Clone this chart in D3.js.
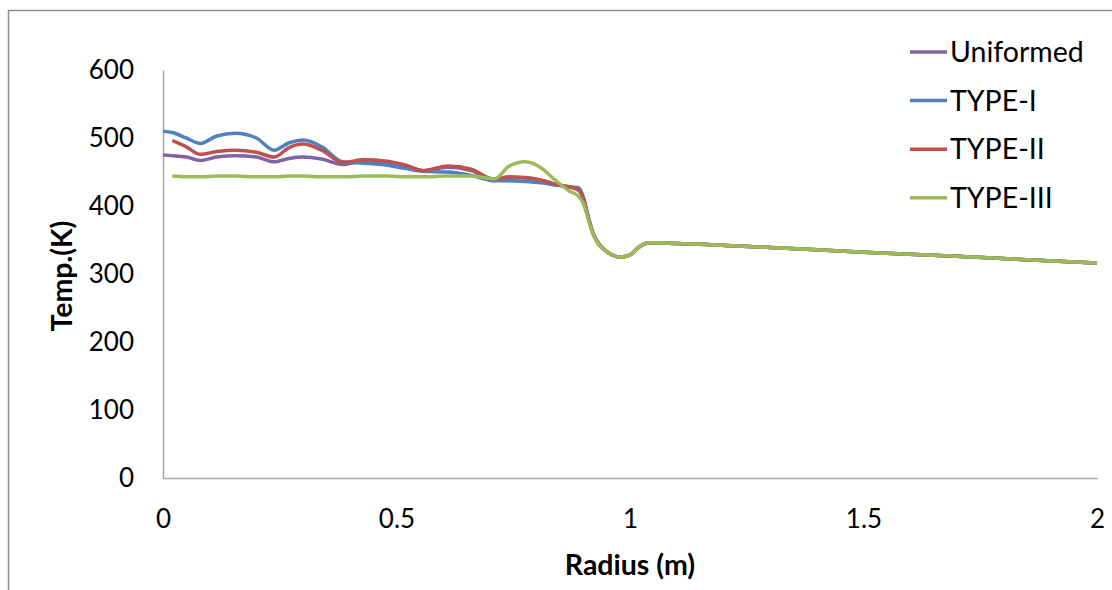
<!DOCTYPE html>
<html>
<head>
<meta charset="utf-8">
<script src="https://cdn.jsdelivr.net/npm/d3@7"></script>
<style>
  body { margin: 0; background: #fff; }
  svg { display: block; font-family: Lato, "Open Sans", sans-serif; }
  .tick text { font-size: 26px; fill: #000; }
</style>
</head>
<body>
<div id="chart"></div>
<script>
// radius (m) shared by every series
const radius = [0, 0.02, 0.05, 0.08, 0.115, 0.155, 0.2, 0.238, 0.27, 0.30, 0.34, 0.385,
  0.43, 0.48, 0.52, 0.557, 0.61, 0.66, 0.71, 0.74, 0.775, 0.81, 0.84, 0.87, 0.89, 0.9,
  0.91, 0.92, 0.93, 0.95, 0.98, 1.0, 1.02, 1.04, 1.1, 1.3, 1.5, 1.7, 2.0];

// temperatures (K), null where a series has no point
const uniformed = [475, 474, 472, 467, 472, 474, 472, 465, 470, 472, 469, 461,
  466, 464, 459, 452, 457, 452, 438, 441, 441, 438, 432, 428, 426, 412,
  385, 361, 347, 333, 325, 328, 340, 346, 345, 339, 332, 326, 316];
const type1 = [510, 508, 500, 492, 503, 507, 500, 482, 493, 497, 487, 465,
  463, 460, 455, 451, 450, 445, 437, 437, 436, 434, 431, 428, 427, 413,
  386, 362, 348, 333, 325, 328, 340, 346, 345, 339, 332, 326, 316];
const type2 = [null, 496, 487, 476, 480, 482, 479, 472, 486, 491, 482, 464,
  468, 466, 460, 452, 459, 454, 439, 443, 442, 438, 432, 428, 423, 410,
  384, 361, 347, 333, 325, 328, 340, 346, 345, 339, 332, 326, 316];
const type3 = [null, 444, 443, 443, 444, 444, 443, 443, 444, 444, 443, 443,
  444, 444, 443, 443, 444, 444, 440, 458, 465, 456, 438, 422, 414, 404,
  382, 360, 346, 333, 325, 328, 340, 346, 345, 339, 332, 326, 316];

const seriesNames = ["Uniformed", "TYPE-I", "TYPE-II", "TYPE-III"];
const seriesValues = [uniformed, type1, type2, type3];
const seriesColors = ["#8064A2", "#4F81BD", "#C0504D", "#9BBB59"];

const xTicks = [0, 0.5, 1, 1.5, 2];
const yTicks = [0, 100, 200, 300, 400, 500, 600];

const width = 1112, height = 590;
const margin = {top: 70, right: 15, bottom: 112, left: 163};

const svg = d3.select("#chart").append("svg")
  .attr("width", width)
  .attr("height", height);

// outer chart frame (only top and left edges are in view)
svg.append("rect")
  .attr("x", 8.5).attr("y", 10.5)
  .attr("width", width + 20).attr("height", height + 20)
  .attr("fill", "none")
  .attr("stroke", "#8c8c8c")
  .attr("stroke-width", 1.5);

const x = d3.scaleLinear().domain([0, 2]).range([margin.left, width - margin.right]);
const y = d3.scaleLinear().domain([0, 600]).range([height - margin.bottom, margin.top]);

const xAxis = svg.append("g")
  .attr("transform", `translate(0,${y(0)})`)
  .call(d3.axisBottom(x).tickValues(xTicks).tickSize(0).tickPadding(32)
    .tickFormat(d3.format("")));
const yAxis = svg.append("g")
  .attr("transform", `translate(${x(0)},0)`)
  .call(d3.axisLeft(y).tickValues(yTicks).tickSize(0).tickPadding(29));

[xAxis, yAxis].forEach(g => {
  g.select(".domain").attr("stroke", "#a6a6a6").attr("stroke-width", 1.5);
  g.selectAll("text").attr("font-family", "Lato, sans-serif");
});

svg.append("text")
  .attr("x", x(1)).attr("y", 575)
  .attr("text-anchor", "middle")
  .attr("font-size", 28.5).attr("font-weight", "bold")
  .text("Radius (m)");

svg.append("text")
  .attr("transform", `translate(72,${y(300) + 2}) rotate(-90)`)
  .attr("text-anchor", "middle")
  .attr("font-size", 28.5).attr("font-weight", "bold")
  .text("Temp.(K)");

const line = d3.line()
  .defined(d => d[1] != null)
  .x(d => x(d[0]))
  .y(d => y(d[1]))
  .curve(d3.curveMonotoneX);

seriesValues.forEach((vals, i) => {
  svg.append("path")
    .datum(radius.map((r, j) => [r, vals[j]]))
    .attr("fill", "none")
    .attr("stroke", seriesColors[i])
    .attr("stroke-width", 3.5)
    .attr("stroke-linejoin", "round")
    .attr("d", line);
});

// legend
const legend = svg.append("g");
seriesNames.forEach((name, i) => {
  const ly = 52 + i * 48.6;
  legend.append("line")
    .attr("x1", 910).attr("x2", 947)
    .attr("y1", ly).attr("y2", ly)
    .attr("stroke", seriesColors[i])
    .attr("stroke-width", 3.5);
  legend.append("text")
    .attr("x", 950).attr("y", ly + 10)
    .attr("font-size", 28.5)
    .text(name);
});
</script>
</body>
</html>
